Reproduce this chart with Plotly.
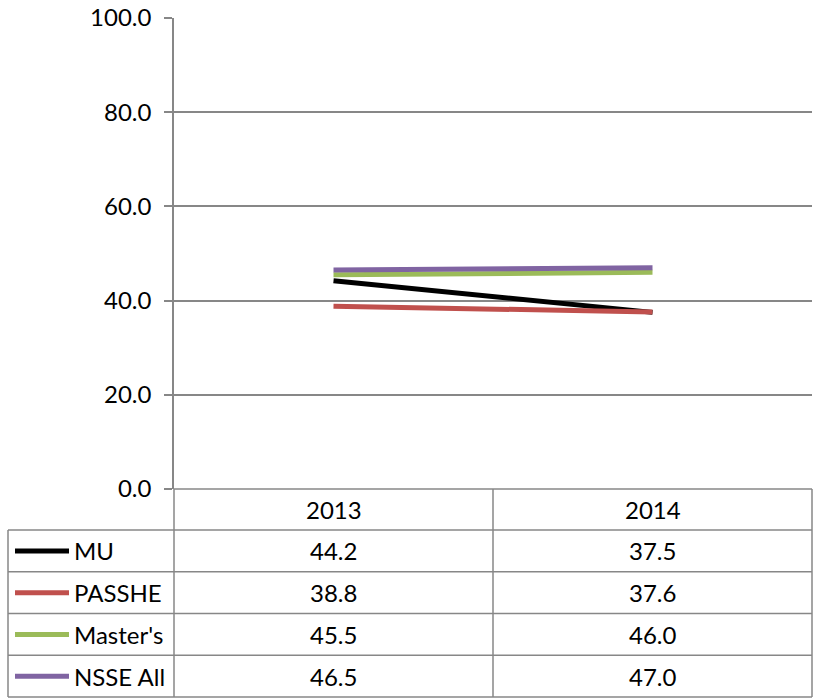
import plotly.graph_objects as go

years = ["2013", "2014"]
series_names = ["MU", "PASSHE", "Master's", "NSSE All"]
mu = [44.2, 37.5]
passhe = [38.8, 37.6]
masters = [45.5, 46.0]
nsse_all = [46.5, 47.0]
series_values = [mu, passhe, masters, nsse_all]
colors = ["#000000", "#C0504D", "#9BBB59", "#8064A2"]
y_ticks = [0, 20, 40, 60, 80, 100]

W, H = 817, 698
L, R, T, B = 174, 5, 18, 209
plot_h = H - T - B
plot_w = W - L - R
grid = "#878787"
font = "Lato"
fs = 24


def py(pix):
    """pixel row -> paper y"""
    return (H - B - pix) / plot_h


def px(pix):
    """pixel column -> paper x"""
    return (pix - L) / plot_w


fig = go.Figure()
# draw order: bottom to top so NSSE All sits on top
for name, vals, col in zip(series_names, series_values, colors):
    fig.add_trace(go.Scatter(x=years, y=vals, mode="lines", name=name,
                             line=dict(color=col, width=5), showlegend=False))

shapes = []
annotations = []

# data table grid
header_top = H - B
row_h = (697 - 530) / 4
row_edges = [530 + i * row_h for i in range(5)]
line = dict(color=grid, width=1.5)
shapes.append(dict(type="line", xref="paper", yref="paper", x0=0, x1=1,
                   y0=py(header_top), y1=py(header_top), line=line))
for e in row_edges:
    shapes.append(dict(type="line", xref="paper", yref="paper", x0=px(8), x1=1,
                       y0=py(e), y1=py(e), line=line))
shapes.append(dict(type="line", xref="paper", yref="paper", x0=px(8), x1=px(8),
                   y0=py(row_edges[0]), y1=py(row_edges[-1]), line=line))
shapes.append(dict(type="line", xref="paper", yref="paper", x0=0, x1=0,
                   y0=py(header_top), y1=py(row_edges[-1]), line=line))
shapes.append(dict(type="line", xref="paper", yref="paper", x0=0.5, x1=0.5,
                   y0=py(header_top), y1=py(row_edges[-1]), line=line))
shapes.append(dict(type="line", xref="paper", yref="paper", x0=1, x1=1,
                   y0=py(header_top), y1=py(row_edges[-1]), line=line))

# header row: category labels
for i, yr in enumerate(years):
    annotations.append(dict(text=yr, xref="x", yref="paper", x=i,
                            y=py((header_top + row_edges[0]) / 2),
                            showarrow=False, xanchor="center", yanchor="middle",
                            font=dict(family=font, size=fs, color="#000")))

# series rows: legend key, name and values
for r, (name, vals, col) in enumerate(zip(series_names, series_values, colors)):
    yc = py((row_edges[r] + row_edges[r + 1]) / 2)
    shapes.append(dict(type="line", xref="paper", yref="paper",
                       x0=px(15), x1=px(69), y0=yc, y1=yc,
                       line=dict(color=col, width=5)))
    annotations.append(dict(text=name, xref="paper", yref="paper", x=px(72), y=yc,
                            showarrow=False, xanchor="left", yanchor="middle",
                            font=dict(family=font, size=fs, color="#000")))
    for i, v in enumerate(vals):
        annotations.append(dict(text=f"{v:.1f}", xref="x", yref="paper", x=i, y=yc,
                                showarrow=False, xanchor="center", yanchor="middle",
                                font=dict(family=font, size=fs, color="#000")))

fig.update_layout(
    width=W, height=H,
    margin=dict(l=L, r=R, t=T, b=B, pad=0, autoexpand=False),
    paper_bgcolor="white", plot_bgcolor="white",
    shapes=shapes, annotations=annotations,
    xaxis=dict(type="category", range=[-0.5, 1.5], showticklabels=False,
               showgrid=False, zeroline=False, showline=False, ticks="",
               automargin=False),
    yaxis=dict(range=[0, 100], tickvals=y_ticks, tickformat=".1f",
               showgrid=True, gridcolor=grid, gridwidth=1.5,
               showline=True, linecolor=grid, linewidth=1.5,
               ticks="outside", ticklen=8, tickcolor=grid, tickwidth=1.5,
               ticklabelstandoff=8, zeroline=False, automargin=False,
               tickfont=dict(family=font, size=fs, color="#000")),
)

fig.write_html("out.html")
